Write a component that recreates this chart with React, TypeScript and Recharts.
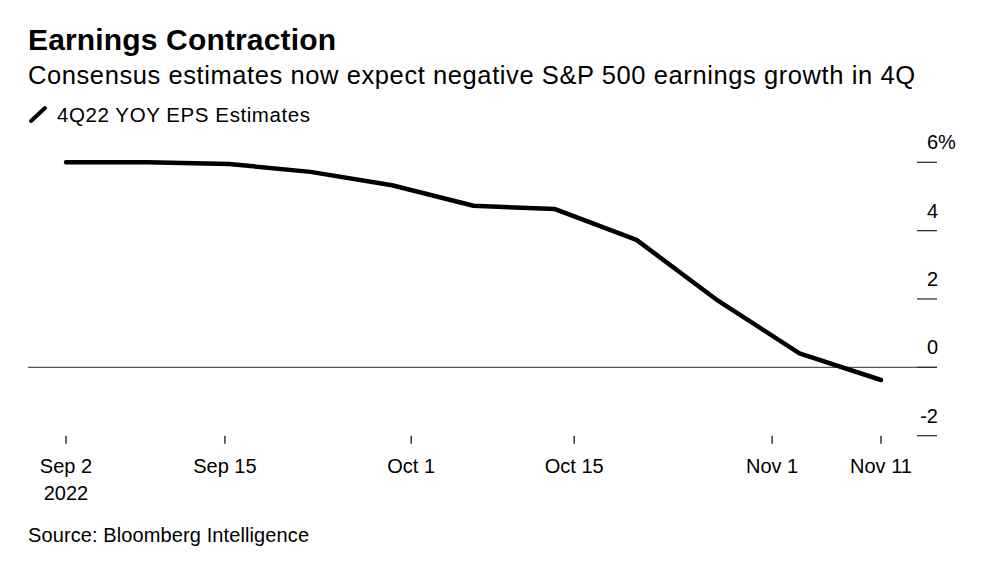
import React from 'react';
import { LineChart, Line, XAxis, YAxis, ReferenceLine } from 'recharts';

// Weekly estimate dates (days since Sep 2, 2022)
const dates = ['2022-09-02', '2022-09-09', '2022-09-16', '2022-09-23', '2022-09-30', '2022-10-07', '2022-10-14', '2022-10-21', '2022-10-28', '2022-11-04', '2022-11-11'];
const dayOffsets = [0, 7, 14, 21, 28, 35, 42, 49, 56, 63, 70];
const epsGrowth = [6.0, 6.0, 5.95, 5.72, 5.33, 4.73, 4.63, 3.73, 1.95, 0.41, -0.37];

const xTickValues = [0, 13.65, 29.65, 43.65, 60.65, 70];
const xTickLabels = ['Sep 2|2022', 'Sep 15', 'Oct 1', 'Oct 15', 'Nov 1', 'Nov 11'];

const yTicks = [-2, 0, 2, 4, 6];

const data = dates.map((d, i) => ({ date: d, day: dayOffsets[i], value: epsGrowth[i] }));

const FONT = '"Liberation Sans", Arial, Helvetica, sans-serif';

const XTick = (props: any) => {
  const { x, y, payload } = props;
  const idx = xTickValues.indexOf(payload.value);
  const label = idx >= 0 ? xTickLabels[idx] : '';
  const lines = label.split('|');
  return (
    <g>
      {lines.map((l, i) => (
        <text key={i} x={x} y={y + 29.3 + i * 27} textAnchor="middle" fontSize={20} fill="#000" fontFamily={FONT}>
          {l}
        </text>
      ))}
    </g>
  );
};

const YTick = (props: any) => {
  const { x, y, payload } = props;
  const v = payload.value;
  return (
    <g>
      <line x1={x - 20} x2={x} y1={y} y2={y} stroke="#333" strokeWidth={1.3} />
      <text x={x + 1} y={y - 13} textAnchor="end" fontSize={20} fill="#000" fontFamily={FONT}>
        {String(v)}
      </text>
      {v === 6 && (
        <text x={x + 1} y={y - 13} textAnchor="start" fontSize={20} fill="#000" fontFamily={FONT}>
          %
        </text>
      )}
    </g>
  );
};

export default function App() {
  return (
    <div style={{ position: 'absolute', left: 0, top: 0, width: 982, height: 577, background: '#fff', fontFamily: FONT }}>
      <LineChart
        width={982}
        height={577}
        data={data}
        margin={{ top: 162.3, right: 0, bottom: 101.3, left: 28 }}
      >
        <XAxis
          dataKey="day"
          type="number"
          domain={[0, 70]}
          ticks={xTickValues}
          padding={{ left: 38, right: 56 }}
          axisLine={false}
          tickLine={{ stroke: '#333', strokeWidth: 1.5 }}
          tickSize={8}
          tickMargin={0}
          height={40}
          tick={<XTick />}
          interval={0}
        />
        <YAxis
          orientation="right"
          type="number"
          domain={[-2, 6]}
          ticks={yTicks}
          axisLine={false}
          tickLine={false}
          tickSize={0}
          tickMargin={0}
          width={45}
          tick={<YTick />}
          interval={0}
        />
        <ReferenceLine y={0} stroke="#555" strokeWidth={1.2} />
        <Line
          type="linear"
          dataKey="value"
          stroke="#000"
          strokeWidth={4.5}
          strokeLinecap="round"
          strokeLinejoin="round"
          dot={false}
          activeDot={false}
          isAnimationActive={false}
        />
      </LineChart>
      <svg width={982} height={577} style={{ position: 'absolute', left: 0, top: 0, pointerEvents: 'none' }}>
        <text x={28} y={50} fontSize={30} fontWeight="bold" fill="#000" fontFamily={FONT} textLength={308} lengthAdjust="spacing">
          Earnings Contraction
        </text>
        <text x={28} y={84} fontSize={25.5} fill="#000" fontFamily={FONT} textLength={887} lengthAdjust="spacing">
          Consensus estimates now expect negative S&amp;P 500 earnings growth in 4Q
        </text>
        <line x1={31} y1={121} x2={45} y2={108} stroke="#000" strokeWidth={4} strokeLinecap="round" />
        <text x={57} y={122} fontSize={20.5} fill="#000" fontFamily={FONT} textLength={253} lengthAdjust="spacing">
          4Q22 YOY EPS Estimates
        </text>
        <text x={28} y={542} fontSize={20} fill="#000" fontFamily={FONT} textLength={281} lengthAdjust="spacing">
          Source: Bloomberg Intelligence
        </text>
      </svg>
    </div>
  );
}
